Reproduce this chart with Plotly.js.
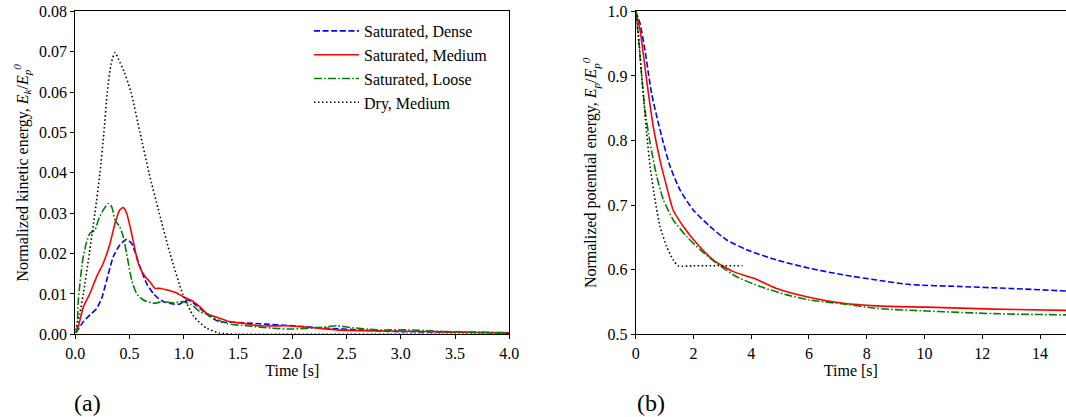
<!DOCTYPE html>
<html>
<head>
<meta charset="utf-8">
<script src="https://cdn.plot.ly/plotly-3.0.1.min.js"></script>
<style>html,body{margin:0;padding:0;background:#fff;}#chart{width:1066px;height:417px;}</style>
</head>
<body>
<div id="chart"></div>
<script>
// ---------- Data: panel (a) kinetic energy ----------
const seriesNames = ["Saturated, Dense", "Saturated, Medium", "Saturated, Loose", "Dry, Medium"];

const kDenseT = [0, 0.012, 0.074, 0.135, 0.197, 0.243, 0.289, 0.35, 0.41, 0.473, 0.519, 0.596, 0.657, 0.719, 0.765, 0.811, 0.903, 0.965, 1.026, 1.07, 1.149, 1.24, 1.33, 1.456, 1.70, 2.0, 2.32, 2.62, 2.93, 3.55, 4.0];
const kDenseV = [0.0005, 0.0007, 0.0031, 0.0048, 0.0064, 0.0089, 0.0134, 0.0192, 0.0221, 0.0235, 0.0225, 0.0167, 0.0126, 0.0101, 0.0089, 0.0081, 0.0075, 0.0075, 0.0085, 0.0081, 0.0064, 0.0044, 0.0031, 0.0030, 0.0026, 0.0021, 0.0015, 0.0011, 0.0007, 0.0005, 0.0003];

const kMedT = [0, 0.012, 0.074, 0.135, 0.197, 0.258, 0.32, 0.366, 0.41, 0.442, 0.473, 0.519, 0.58, 0.642, 0.688, 0.734, 0.78, 0.842, 0.919, 0.995, 1.088, 1.149, 1.21, 1.33, 1.425, 1.55, 1.70, 1.95, 2.16, 2.41, 2.62, 2.93, 3.24, 3.55, 4.0];
const kMedV = [0.0005, 0.0005, 0.0068, 0.0101, 0.0143, 0.0176, 0.0225, 0.0275, 0.0308, 0.0314, 0.0300, 0.0250, 0.0176, 0.0143, 0.0130, 0.0114, 0.0114, 0.0110, 0.0104, 0.0093, 0.0081, 0.0068, 0.0052, 0.0040, 0.0031, 0.0027, 0.0021, 0.0021, 0.0017, 0.0011, 0.0009, 0.0008, 0.0007, 0.0005, 0.0004];

const kLooseT = [0, 0.012, 0.028, 0.068, 0.104, 0.135, 0.181, 0.212, 0.258, 0.304, 0.335, 0.366, 0.41, 0.442, 0.473, 0.52, 0.565, 0.627, 0.72, 0.81, 0.903, 0.995, 1.07, 1.15, 1.21, 1.39, 1.58, 1.82, 2.0, 2.25, 2.41, 2.53, 2.78, 3.08, 3.39, 4.0];
const kLooseV = [0.0005, 0.0007, 0.0085, 0.0184, 0.0228, 0.0250, 0.0258, 0.0283, 0.0308, 0.0324, 0.0316, 0.0283, 0.0266, 0.0242, 0.0200, 0.0134, 0.0101, 0.0085, 0.0077, 0.0081, 0.0078, 0.0081, 0.0073, 0.0056, 0.0050, 0.0027, 0.0021, 0.0015, 0.0013, 0.0017, 0.0021, 0.0017, 0.0011, 0.0011, 0.0007, 0.0004];

const kDryT = [0, 0.04, 0.074, 0.129, 0.181, 0.227, 0.264, 0.295, 0.33, 0.366, 0.40, 0.45, 0.513, 0.596, 0.679, 0.774, 0.873, 0.99, 1.09, 1.21, 1.33, 1.5, 2.0, 3.0, 4.0];
const kDryV = [0.001, 0.005, 0.010, 0.020, 0.030, 0.040, 0.050, 0.060, 0.067, 0.0698, 0.068, 0.065, 0.060, 0.050, 0.040, 0.030, 0.020, 0.010, 0.0045, 0.0015, 0.0003, 0, 0, 0, 0];

// ---------- Data: panel (b) potential energy ----------
const pDenseT = [0, 0.15, 0.32, 0.44, 0.55, 0.73, 0.96, 1.19, 1.54, 2.0, 2.57, 3.15, 3.84, 4.88, 6.04, 7.19, 8.35, 9.5, 11.23, 12.96, 14.9];
const pDenseV = [1.0, 0.981, 0.940, 0.904, 0.873, 0.837, 0.796, 0.760, 0.723, 0.692, 0.667, 0.646, 0.631, 0.615, 0.602, 0.592, 0.584, 0.577, 0.574, 0.571, 0.567];

const pMedT = [0, 0.15, 0.32, 0.44, 0.61, 0.84, 1.07, 1.30, 1.65, 2.11, 2.69, 3.38, 4.07, 4.88, 6.04, 7.19, 8.35, 10.08, 12.39, 14.9];
const pMedV = [1.0, 0.971, 0.914, 0.873, 0.821, 0.770, 0.729, 0.692, 0.667, 0.641, 0.615, 0.597, 0.587, 0.571, 0.557, 0.548, 0.544, 0.542, 0.539, 0.537];

const pLooseT = [0, 0.09, 0.21, 0.32, 0.5, 0.73, 0.96, 1.30, 1.77, 2.23, 2.80, 3.50, 4.31, 5.23, 6.04, 7.19, 8.35, 10.08, 12.39, 14.9];
const pLooseV = [1.0, 0.961, 0.899, 0.847, 0.796, 0.744, 0.708, 0.677, 0.651, 0.631, 0.610, 0.589, 0.574, 0.561, 0.553, 0.547, 0.540, 0.536, 0.532, 0.530];

const pDryT = [0, 0.09, 0.21, 0.38, 0.5, 0.67, 0.84, 1.07, 1.30, 1.48, 2.0, 3.7];
const pDryV = [1.0, 0.966, 0.899, 0.811, 0.760, 0.708, 0.667, 0.636, 0.615, 0.606, 0.606, 0.606];

// tick labels
const kXTicks = [0, 0.5, 1.0, 1.5, 2.0, 2.5, 3.0, 3.5, 4.0];
const kYTicks = [0, 0.01, 0.02, 0.03, 0.04, 0.05, 0.06, 0.07, 0.08];
const pXTicks = [0, 2, 4, 6, 8, 10, 12, 14];
const pYTicks = [0.5, 0.6, 0.7, 0.8, 0.9, 1.0];

// ---------- Styles ----------
const colors = ["#0000ff", "#ff0000", "#008000", "#000000"];
const dashes = ["6px,2.6px", "solid", "8px,2.2px,1.6px,2.2px", "1.5px,2.5px"];
const FONT = "Liberation Serif";

function tr(x, y, i, xa, ya, show) {
  return {x: x, y: y, type: "scatter", mode: "lines", name: seriesNames[i],
    xaxis: xa, yaxis: ya, showlegend: show, legendgroup: "g" + i,
    line: {color: colors[i], width: 1.6, dash: dashes[i], shape: "spline", smoothing: 0.6},
    hoverinfo: "x+y"};
}

const data = [
  tr(kDenseT, kDenseV, 0, "x", "y", true),
  tr(kMedT, kMedV, 1, "x", "y", true),
  tr(kLooseT, kLooseV, 2, "x", "y", true),
  tr(kDryT, kDryV, 3, "x", "y", true),
  tr(pDenseT, pDenseV, 0, "x2", "y2", false),
  tr(pMedT, pMedV, 1, "x2", "y2", false),
  tr(pLooseT, pLooseV, 2, "x2", "y2", false),
  tr(pDryT, pDryV, 3, "x2", "y2", false)
];

const W = 1066, H = 417;
const yDom = [1 - 334.3 / H, 1 - 11.3 / H];
const axisCommon = {
  showgrid: false, zeroline: false, showline: true, linecolor: "#000", linewidth: 1,
  ticks: "outside", ticklen: 4, tickwidth: 1, tickcolor: "#000",
  tickfont: {family: FONT, size: 16, color: "#000"}, automargin: false
};

const layout = {
  width: W, height: H,
  margin: {l: 0, r: 0, t: 0, b: 0},
  paper_bgcolor: "#fff", plot_bgcolor: "#fff",
  font: {family: FONT, size: 16, color: "#000"},
  showlegend: true,
  legend: {x: 309 / W, y: 1 - 14 / H, xanchor: "left", yanchor: "top",
    bgcolor: "rgba(255,255,255,0)", borderwidth: 0,
    font: {family: FONT, size: 16, color: "#000"}, tracegroupgap: 0, itemwidth: 45},
  xaxis: Object.assign({}, axisCommon, {
    domain: [75.3 / W, 509.3 / W], range: [0, 4.0], tickvals: kXTicks, tickformat: ".1f",
    mirror: true, anchor: "y",
    title: {text: "Time [s]", font: {family: FONT, size: 16}, standoff: 4}
  }),
  yaxis: Object.assign({}, axisCommon, {
    domain: yDom, range: [0, 0.08], tickvals: kYTicks, tickformat: ".2f",
    mirror: true, anchor: "x",
    title: {text: "Normalized kinetic energy, <i>E<sub>k</sub></i>/<i>E<sub>p</sub><sup>0</sup></i>", font: {family: FONT, size: 16}, standoff: 6}
  }),
  xaxis2: Object.assign({}, axisCommon, {
    domain: [635.7 / W, 1], range: [0, 14.9], tickvals: pXTicks, tickformat: "d",
    mirror: true, anchor: "y2",
    title: {text: "Time [s]", font: {family: FONT, size: 16}, standoff: 4}
  }),
  yaxis2: Object.assign({}, axisCommon, {
    domain: yDom, range: [0.5, 1.0], tickvals: pYTicks, tickformat: ".1f",
    anchor: "x2",
    title: {text: "Normalized potential energy, <i>E<sub>p</sub></i>/<i>E<sub>p</sub><sup>0</sup></i>", font: {family: FONT, size: 16}, standoff: 6}
  }),
  annotations: [
    {text: "(a)", xref: "paper", yref: "paper", x: 72 / W, y: 1 - 403 / H, xanchor: "left", yanchor: "middle",
     showarrow: false, font: {family: FONT, size: 24, color: "#000"}},
    {text: "(b)", xref: "paper", yref: "paper", x: 635 / W, y: 1 - 403 / H, xanchor: "left", yanchor: "middle",
     showarrow: false, font: {family: FONT, size: 24, color: "#000"}}
  ]
};

Plotly.newPlot("chart", data, layout, {displayModeBar: false, staticPlot: true});
</script>
</body>
</html>
